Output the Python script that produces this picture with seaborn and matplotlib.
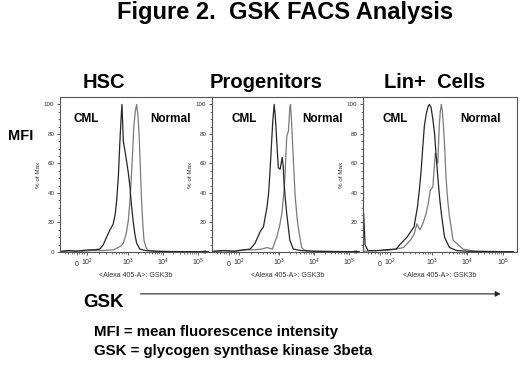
import numpy as np
import pandas as pd
import matplotlib
matplotlib.use('Agg')
import matplotlib.pyplot as plt
import seaborn as sns

sns.set_style('ticks')
plt.rcParams['font.family'] = ['Liberation Sans', 'DejaVu Sans']
plt.rcParams['mathtext.fontset'] = 'custom'
plt.rcParams['mathtext.rm'] = 'Liberation Sans'
plt.rcParams['mathtext.it'] = 'Liberation Sans:italic'
plt.rcParams['text.color'] = 'black'

# x in display units of the biexponential FACS axis (10^3 -> 3, 10^4 -> 4 ...)
panels = ['HSC', 'Progenitors', 'Lin+  Cells']

hsc_cml_x = [1.10, 1.30, 1.50, 1.70, 1.90, 2.05, 2.20, 2.30, 2.39, 2.49, 2.58, 2.64, 2.68, 2.73, 2.77, 2.80, 2.83, 2.85, 2.87, 2.92, 2.96, 3.01, 3.06, 3.10, 3.15, 3.20, 3.25, 3.34, 3.50, 3.80, 4.20, 4.80, 5.30]
hsc_cml_y = [0.5, 1.0, 0.5, 1.0, 1.5, 1.5, 2, 5, 10, 15, 19, 26, 35, 52, 74, 88, 100, 88, 75, 68, 62, 54, 44, 32, 21, 12, 6, 2, 1, 0.5, 0.3, 0.2, 0.2]
hsc_nor_x = [1.10, 1.40, 1.70, 2.00, 2.30, 2.60, 2.80, 2.87, 2.95, 3.01, 3.06, 3.10, 3.14, 3.17, 3.21, 3.25, 3.29, 3.32, 3.36, 3.39, 3.43, 3.46, 3.52, 3.58, 3.80, 4.20, 4.80, 5.30]
hsc_nor_y = [0.3, 0.8, 0.5, 1.0, 1.0, 1.5, 4, 6, 12, 21, 35, 51, 70, 85, 95, 100, 92, 80, 55, 35, 18, 8, 3, 1, 0.5, 0.3, 0.2, 0.2]

prog_cml_x = [1.10, 1.40, 1.70, 2.00, 2.16, 2.30, 2.45, 2.54, 2.64, 2.69, 2.73, 2.77, 2.81, 2.85, 2.88, 2.90, 2.94, 2.97, 3.02, 3.05, 3.08, 3.11, 3.13, 3.17, 3.21, 3.30, 3.40, 3.60, 4.00, 4.60, 5.30]
prog_cml_y = [0.5, 1.0, 0.5, 1.5, 2, 6, 14, 17, 30, 40, 55, 72, 89, 100, 92, 85, 68, 57, 56, 60, 64, 58, 48, 36, 26, 8, 2, 1, 0.5, 0.3, 0.2]
prog_nor_x = [1.10, 1.40, 1.70, 2.00, 2.30, 2.50, 2.64, 2.80, 2.92, 3.00, 3.07, 3.12, 3.16, 3.21, 3.26, 3.30, 3.32, 3.35, 3.38, 3.45, 3.50, 3.54, 3.64, 3.73, 4.00, 4.60, 5.30]
prog_nor_y = [0.3, 0.8, 0.5, 1.5, 1.5, 2, 3, 2, 10, 17, 26, 38, 51, 78, 82, 98, 100, 88, 73, 39, 25, 17, 3, 1, 0.5, 0.3, 0.2]

lin_cml_x = [1.08, 1.12, 1.20, 1.40, 1.70, 2.00, 2.10, 2.30, 2.50, 2.60, 2.65, 2.70, 2.75, 2.79, 2.84, 2.89, 2.93, 2.98, 3.03, 3.08, 3.12, 3.17, 3.22, 3.27, 3.36, 3.50, 3.70, 4.00, 4.60, 5.30]
lin_cml_y = [26, 5, 1.0, 0.8, 1.5, 2, 5, 10, 17, 31, 42, 55, 72, 85, 93, 98, 100, 98, 90, 80, 66, 51, 37, 26, 10, 3, 1, 0.5, 0.3, 0.2]
lin_nor_x = [1.10, 1.40, 1.70, 2.00, 2.20, 2.40, 2.50, 2.58, 2.67, 2.76, 2.84, 2.90, 2.96, 3.03, 3.10, 3.17, 3.21, 3.24, 3.27, 3.30, 3.33, 3.37, 3.40, 3.45, 3.50, 3.60, 3.74, 3.88, 4.20, 4.80, 5.30]
lin_nor_y = [0.5, 1.0, 1.0, 2, 3, 8, 12, 19, 15, 20, 26, 33, 42, 44, 67, 60, 85, 95, 100, 95, 85, 68, 51, 35, 24, 8, 5, 2, 0.5, 0.3, 0.2]

x_tick_pos = [1.54, 1.83, 3, 4, 5]
x_tick_lab = ['0', '$10^2$', '$10^3$', '$10^4$', '$10^5$']
y_ticks = [0, 20, 40, 60, 80, 100]

curves = {
    'HSC': [(hsc_cml_x, hsc_cml_y), (hsc_nor_x, hsc_nor_y)],
    'Progenitors': [(prog_cml_x, prog_cml_y), (prog_nor_x, prog_nor_y)],
    'Lin+  Cells': [(lin_cml_x, lin_cml_y), (lin_nor_x, lin_nor_y)],
}

# minor ticks like FlowJo's axis
minor_x = [1.2, 1.3, 1.4, 1.47, 1.61, 1.68, 1.75]
minor_x += [1.83 + np.log10(k) * 1.17 for k in range(2, 10)]
minor_x += [d + np.log10(k) for d in (3, 4) for k in range(2, 10)]

fig = plt.figure(figsize=(5.2, 3.72), dpi=100)
lefts = [0.1154, 0.4077, 0.698]
widths = [0.292, 0.290, 0.296]
cml_pos = [0.086, 0.126, 0.13]
nor_pos = [0.596, 0.596, 0.63]
title_x = [0.200, 0.512, 0.836]

for i, name in enumerate(panels):
    ax = fig.add_axes([lefts[i], 0.3226, widths[i], 0.4167])
    ax.set_facecolor('none')
    (cx, cy), (nx, ny) = curves[name]
    sns.lineplot(x=nx, y=ny, ax=ax, color='#7a7a7a', lw=0.9, sort=False, estimator=None)
    sns.lineplot(x=cx, y=cy, ax=ax, color='#262626', lw=0.9, sort=False, estimator=None)
    ax.set_xlim(1.06, 5.4)
    ax.set_ylim(0, 105)
    ax.set_xticks(x_tick_pos)
    ax.set_xticklabels(x_tick_lab)
    for lbl in ax.get_xticklabels():
        lbl.set_verticalalignment('baseline')
    ax.set_xticks(minor_x, minor=True)
    ax.set_yticks(y_ticks)
    ax.set_yticks(np.arange(0, 105, 5), minor=True)
    ax.tick_params(axis='both', which='major', labelsize=4.5, length=2.5, width=0.6,
                   pad=1.5, color='#444444', labelcolor='#333333')
    ax.tick_params(axis='both', which='minor', length=1.3, width=0.5, color='#444444')
    ax.tick_params(axis='x', labelsize=5, pad=7.5)
    for s in ax.spines.values():
        s.set_color('#555555')
        s.set_linewidth(0.8)
    ax.set_ylabel('% of Max', fontsize=4.5, labelpad=2, color='#333333')
    ax.set_xlabel('<Alexa 405-A>: GSK3b', fontsize=5, labelpad=2.5, color='#333333')
    ax.text(cml_pos[i], 0.84, 'CML', transform=ax.transAxes, fontsize=8.5, fontweight='bold')
    ax.text(nor_pos[i], 0.84, 'Normal', transform=ax.transAxes, fontsize=8.5, fontweight='bold')
    fig.text(title_x[i], 0.763, name, ha='center', va='baseline', fontsize=14.5, fontweight='bold')

fig.text(0.548, 0.948, 'Figure 2.  GSK FACS Analysis', ha='center', va='baseline',
         fontsize=17, fontweight='bold')
fig.text(0.015, 0.624, 'MFI', ha='left', va='baseline', fontsize=10.5, fontweight='bold')
fig.text(0.16, 0.175, 'GSK', ha='left', va='baseline', fontsize=13.5, fontweight='bold')
fig.patches.append(matplotlib.patches.FancyArrowPatch(
    (0.265, 0.210), (0.968, 0.210), transform=fig.transFigure,
    arrowstyle='-|>,head_length=3,head_width=1.6', lw=0.8, color='#222222'))
fig.text(0.181, 0.097, 'MFI = mean fluorescence intensity', ha='left', va='baseline',
         fontsize=10.8, fontweight='bold')
fig.text(0.181, 0.046, 'GSK = glycogen synthase kinase 3beta', ha='left', va='baseline',
         fontsize=10.8, fontweight='bold')

fig.savefig('out.png', dpi=100, facecolor='white')
